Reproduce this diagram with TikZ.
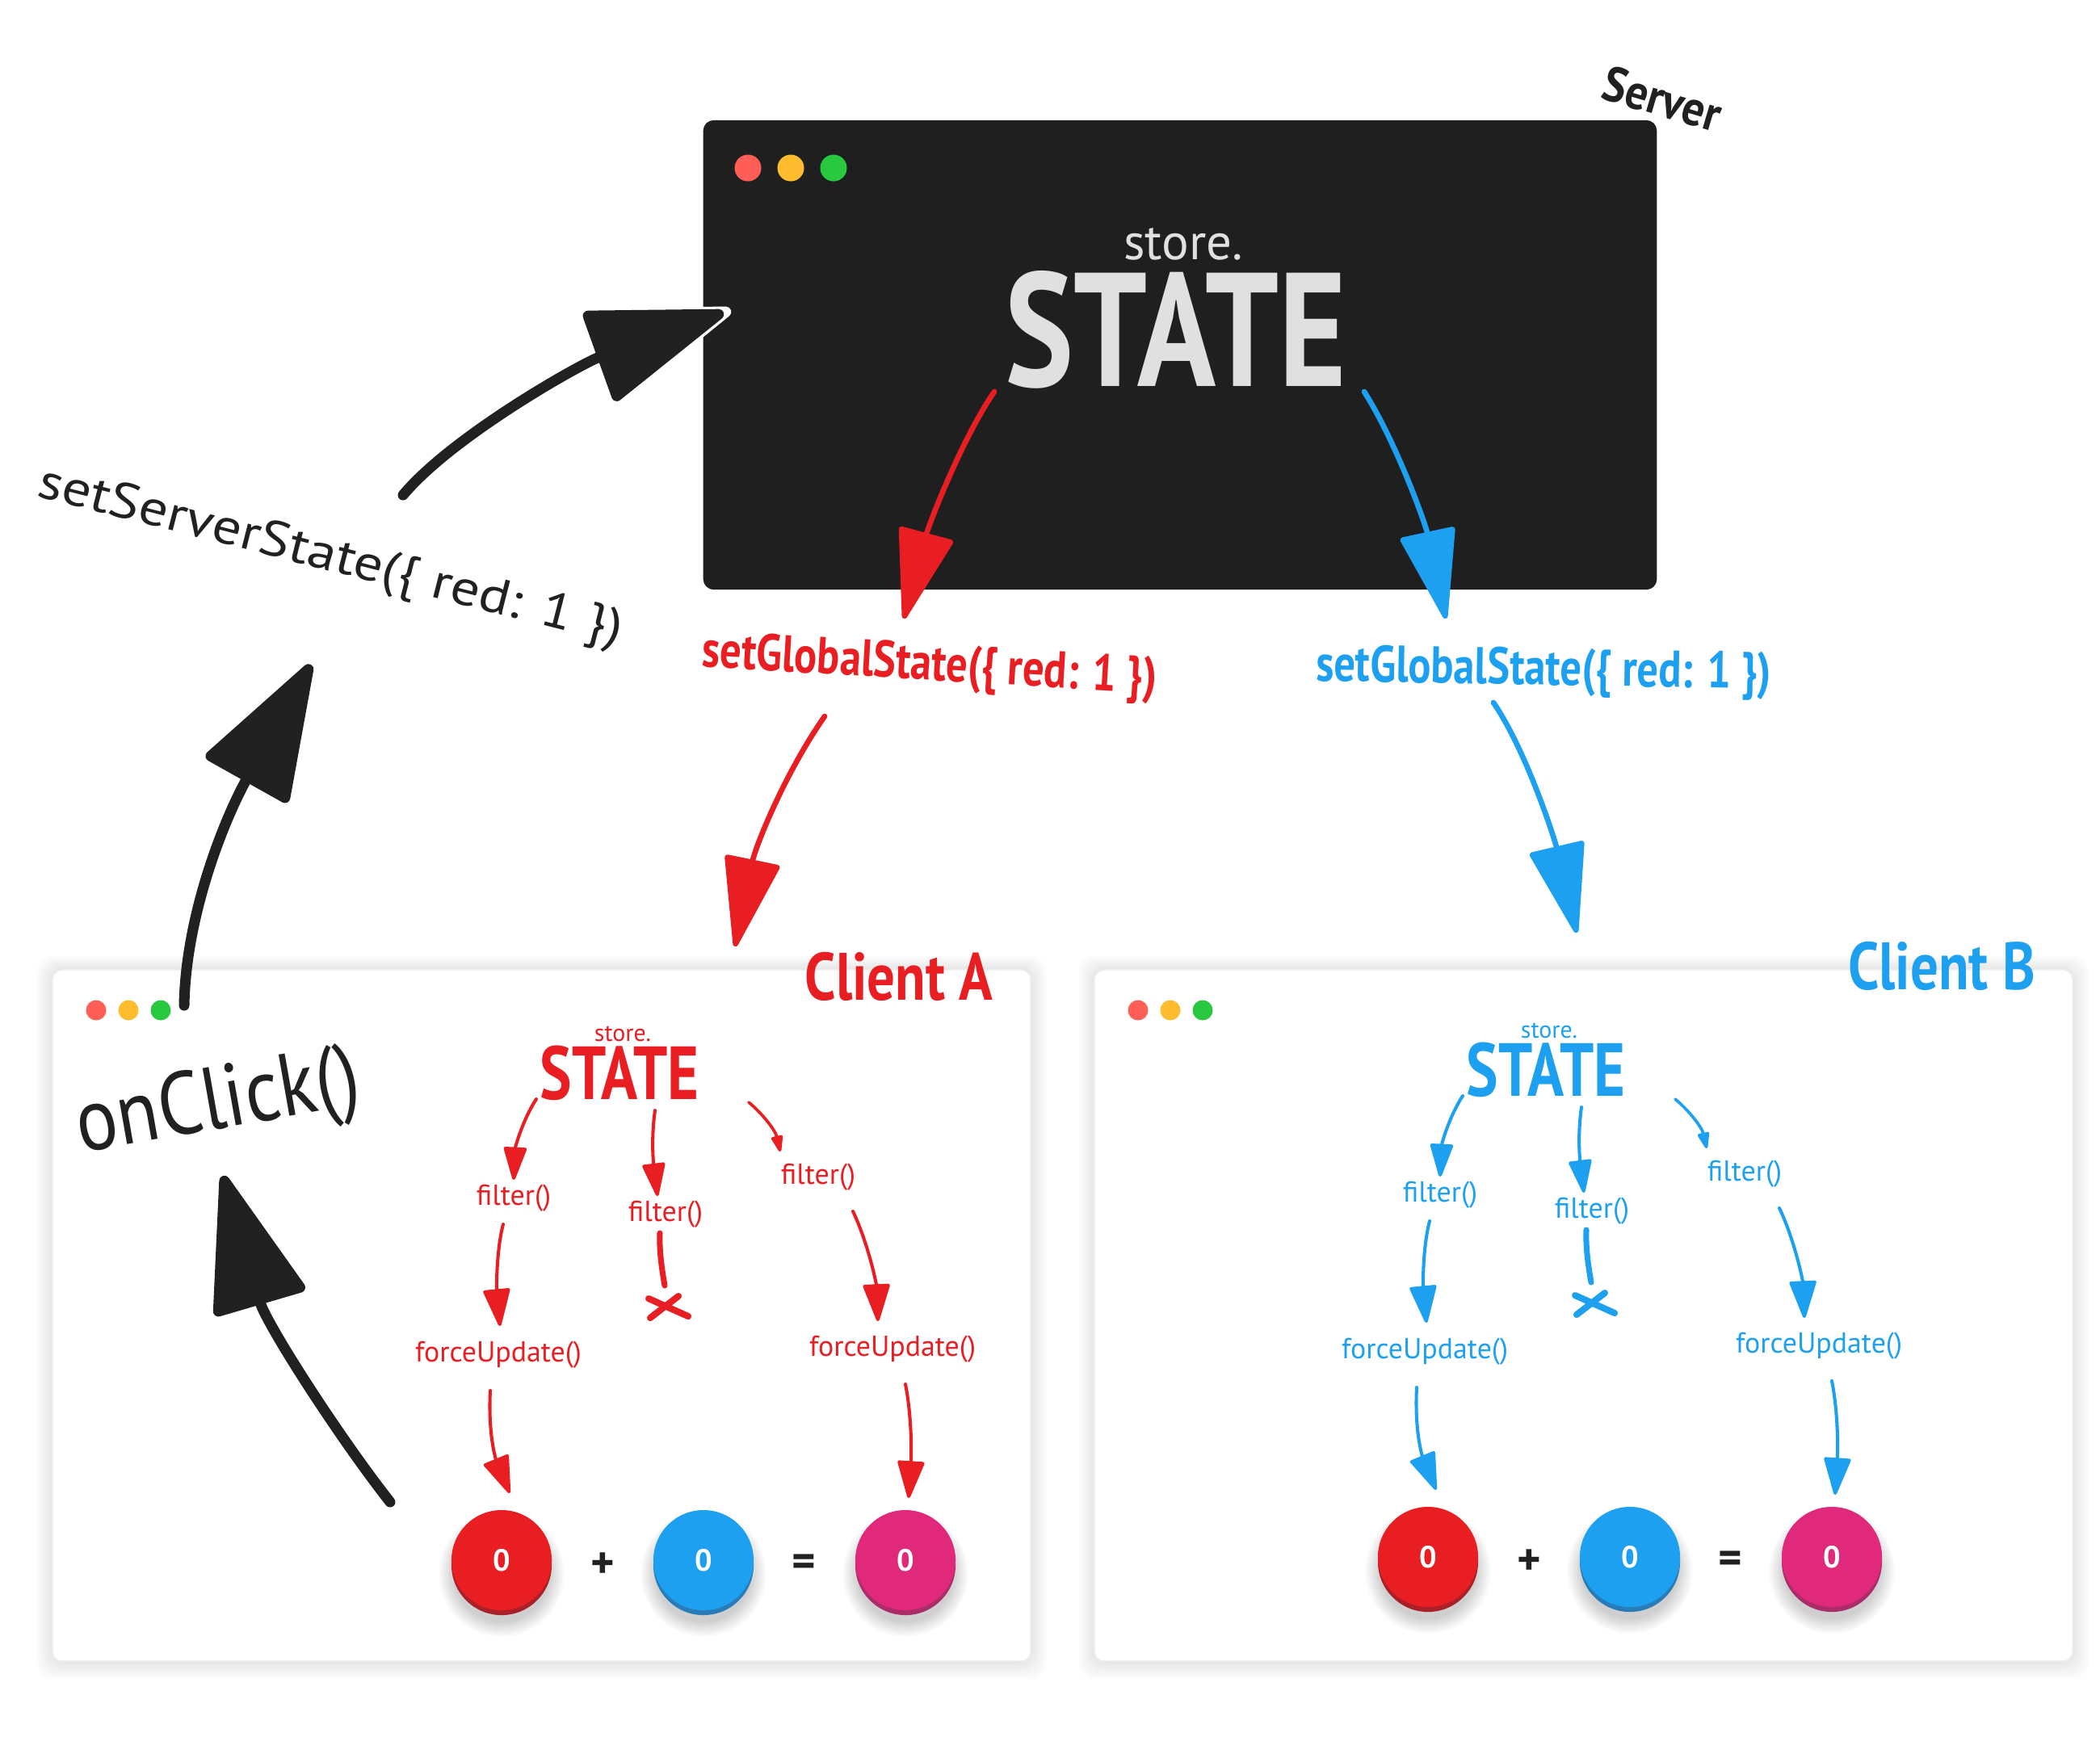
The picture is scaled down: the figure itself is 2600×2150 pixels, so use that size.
\documentclass[tikz,border=0pt]{standalone}
\usepackage{fontspec}
\setmainfont{PT Sans}
\usetikzlibrary{arrows.meta}
\definecolor{cred}{RGB}{232,30,34}
\definecolor{cblue}{RGB}{30,160,240}
\definecolor{cpink}{RGB}{224,41,122}
\definecolor{cdark}{RGB}{31,31,31}
\definecolor{cink}{RGB}{33,33,33}
\definecolor{cgrayt}{RGB}{224,224,224}
\definecolor{dotr}{RGB}{255,95,87}
\definecolor{doty}{RGB}{254,188,46}
\definecolor{dotg}{RGB}{40,200,64}
\definecolor{rimred}{RGB}{170,32,40}
\definecolor{rimblue}{RGB}{40,125,185}
\definecolor{rimpink}{RGB}{170,45,105}
\definecolor{boxline}{RGB}{236,236,236}

\newcommand\fServerState{\fontsize{57pt}{60pt}\selectfont\bfseries}
\newcommand\fServerStore{\fontsize{17.9pt}{20pt}\selectfont}
\newcommand\fLabel{\fontsize{17.4pt}{20pt}\selectfont\bfseries}
\newcommand\fSetServer{\fontsize{17.6pt}{20pt}\selectfont}
\newcommand\fGlobal{\fontsize{18.2pt}{20pt}\selectfont\bfseries}
\newcommand\fClient{\fontsize{23.6pt}{26pt}\selectfont\bfseries}
\newcommand\fClick{\fontsize{31.3pt}{34pt}\selectfont}
\newcommand\fCStore{\fontsize{8.5pt}{10pt}\selectfont}
\newcommand\fCState{\fontsize{26.5pt}{28pt}\selectfont\bfseries}
\newcommand\fSmall{\fontsize{10.2pt}{12pt}\selectfont}
\newcommand\fZero{\fontsize{10.8pt}{12pt}\selectfont\bfseries}
\newcommand\fOp{\fontsize{16pt}{18pt}\selectfont\bfseries}

\tikzset{
  txt/.style={inner sep=0pt, outer sep=0pt},
  bigarrow/.style={line width=1.9pt, line cap=round, -{Triangle[length=1.18cm, width=0.7cm, round]}},
  blackarrow/.style={cink, line width=3.7pt, line cap=round, -{Triangle[length=1.8cm, width=1.2cm, round]}},
  sarrow/.style={line width=1.15pt, line cap=round, -{Triangle[length=0.45cm, width=0.29cm, round]}},
  tarrow/.style={line width=1.05pt, line cap=round, -{Triangle[length=0.24cm, width=0.15cm, round]}},
  marrow/.style={line width=1.15pt, line cap=round, -{Triangle[length=0.5cm, width=0.34cm, round]}},
  winbox/.style={draw=boxline, line width=0.5pt, fill=white, rounded corners=0.12cm,
     minimum width=12.11cm, minimum height=8.56cm, inner sep=0pt},
  serverbox/.style={fill=cdark, rounded corners=0.13cm, minimum width=11.8cm,
     minimum height=5.81cm, inner sep=0pt},
  button/.style={circle, minimum size=1.24cm, inner sep=0pt, text=white, font=\fZero},
  opnode/.style={txt, text=cink, font=\fOp},
}

% window with shadow and traffic lights; #1 name, #2 left x
\newcommand\winpanel[2]{%
  \begin{scope}[shift={(#2-65,0)}]
    \foreach \i in {1,...,8}{\fill[black,opacity=0.013,rounded corners=0.2cm]
       (65-2.5*\i,1201-2.2*\i) rectangle (1276+2.5*\i,2057+2.8*\i);}
    \node[winbox] (#1) at (670.5,1629) {};
    \fill[dotr] (119,1251) circle[radius=0.125cm];
    \fill[doty] (159,1251) circle[radius=0.125cm];
    \fill[dotg] (199,1251) circle[radius=0.125cm];
  \end{scope}}

% button; #1 name #2 x #3 y #4 colour #5 rim
\newcommand\btn[5]{%
  \foreach \i in {0,...,7}{\fill[black,opacity=0.022] (#2,#3+17) circle[radius={0.6cm+\i*0.025cm}];}
  \fill[#5] (#2,#3+6) circle[radius=0.62cm];
  \node[button, fill=#4] (#1) at (#2,#3) {0};}

% client content; #1 prefix #2 colour #3 dx #4 dy
\newcommand\clientcontent[4]{%
  \begin{scope}[shift={(#3,#4)}]
    \node[txt, font=\fCStore, text=#2, anchor=base] (#1store) at (771,1289) {store.};
    \node[txt, font=\fCState, text=#2, anchor=base, xscale=0.8] (#1state) at (767,1361) {STATE};
    \node[txt, font=\fSmall, text=#2, anchor=base] (#1fl) at (636,1492) {filter()};
    \node[txt, font=\fSmall, text=#2, anchor=base] (#1fm) at (824,1512) {filter()};
    \node[txt, font=\fSmall, text=#2, anchor=base] (#1fr) at (1013,1466) {filter()};
    \node[txt, font=\fSmall, text=#2, anchor=base] (#1ul) at (617,1686) {forceUpdate()};
    \node[txt, font=\fSmall, text=#2, anchor=base] (#1ur) at (1105,1679) {forceUpdate()};
    \coordinate (#1a1s) at (664,1361); \coordinate (#1a1e) at (636,1461);
    \coordinate (#1a2s) at (811,1375); \coordinate (#1a2e) at (814,1481);
    \coordinate (#1a3s) at (927,1365); \coordinate (#1a3e) at (966,1426);
    \coordinate (#1b1s) at (623,1516); \coordinate (#1b1e) at (619,1642);
    \coordinate (#1b2s) at (817,1527); \coordinate (#1b2e) at (823,1592);
    \coordinate (#1b3s) at (1056,1500); \coordinate (#1b3e) at (1087,1636);
    \coordinate (#1c1s) at (607,1722); \coordinate (#1c1e) at (631,1849);
    \coordinate (#1c3s) at (1121,1714); \coordinate (#1c3e) at (1125,1855);
    \draw[#2, sarrow] (#1a1s) .. controls (648,1385) and (638,1420) .. (#1a1e);
    \draw[#2, sarrow] (#1a2s) .. controls (806,1410) and (809,1440) .. (#1a2e);
    \draw[#2, tarrow] (#1a3s) .. controls (945,1380) and (960,1400) .. (#1a3e);
    \draw[#2, marrow] (#1b1s) .. controls (614,1550) and (615,1600) .. (#1b1e);
    \draw[#2, line width=2pt, line cap=round] (#1b2s) .. controls (816,1550) and (820,1575) .. (#1b2e);
    \draw[#2, line width=2.3pt, line cap=round] (803,1608) -- (852,1630) (840,1605) -- (805,1632);
    \draw[#2, marrow] (#1b3s) .. controls (1075,1540) and (1085,1590) .. (#1b3e);
    \draw[#2, marrow] (#1c1s) .. controls (604,1780) and (615,1810) .. (#1c1e);
    \draw[#2, marrow] (#1c3s) .. controls (1130,1760) and (1128,1810) .. (#1c3e);
    \btn{#1red}{621}{1932}{cred}{rimred}
    \btn{#1blue}{871}{1932}{cblue}{rimblue}
    \btn{#1pink}{1121}{1932}{cpink}{rimpink}
    \node[opnode] (#1plus) at (746,1939) {+};
    \node[opnode] (#1eq) at (995,1939) {=};
  \end{scope}}

\begin{document}
\begin{tikzpicture}[x=0.01cm, y=-0.01cm]
\useasboundingbox (0,0) rectangle (2600,2150);
\fill[white] (0,0) rectangle (2600,2150);

% client windows
\winpanel{clientA}{65}
\winpanel{clientB}{1355}
\clientcontent{A}{cred}{0}{0}
\clientcontent{B}{cblue}{1147}{-4}

% server window
\node[serverbox] (server) at (1461,439.5) {};
\fill[dotr] (926,208) circle[radius=0.165cm];
\fill[doty] (979,208) circle[radius=0.165cm];
\fill[dotg] (1032,208) circle[radius=0.165cm];
\node[txt, font=\fServerStore, text=cgrayt, anchor=base] (sstore) at (1465,321) {store.};
\node[txt, font=\fServerState, text=cgrayt, anchor=base, xscale=0.8] (sstate) at (1456,478) {STATE};
\node[txt, font=\fLabel, text=cink, anchor=base, rotate=-16.5, xscale=0.9] (slabel) at (2052,143) {Server};

% labels
\node[txt, font=\fSetServer, text=cink, anchor=base, rotate=-14.3, xscale=1.15] (setserver) at (405,706) {setServerState(\{ red: 1 \})};
\node[txt, font=\fGlobal, text=cred, anchor=base, rotate=-3.4, xscale=0.82] (globalA) at (1150,842) {setGlobalState(\{ red: 1 \})};
\node[txt, font=\fGlobal, text=cblue, anchor=base, rotate=-1, xscale=0.82] (globalB) at (1911,848) {setGlobalState(\{ red: 1 \})};
\node[txt, font=\fClient, text=cred, anchor=base, xscale=0.83] (labelA) at (1113,1238) {Client A};
\node[txt, font=\fClient, text=cblue, anchor=base, xscale=0.83] (labelB) at (2404,1225) {Client B};
\node[txt, font=\fClick, text=cink, anchor=base, rotate=10, xscale=0.87] (onclick) at (275,1397) {onClick()};

% server arrows
\coordinate (sr1) at (1231,485); \coordinate (sr2) at (1119,766);
\coordinate (sb1) at (1689,485); \coordinate (sb2) at (1790,766);
\draw[cred, bigarrow] (sr1) .. controls (1190,545) and (1150,650) .. (sr2);
\draw[cblue, bigarrow] (sb1) .. controls (1730,550) and (1765,650) .. (sb2);
\coordinate (gr1) at (1021,887); \coordinate (gr2) at (910,1172);
\coordinate (gb1) at (1849,870); \coordinate (gb2) at (1952,1155);
\draw[cred, bigarrow] (gr1) .. controls (970,960) and (935,1050) .. (gr2);
\draw[cblue, bigarrow] (gb1) .. controls (1890,930) and (1925,1040) .. (gb2);

% black arrows
\coordinate (k1s) at (499,613); \coordinate (k1e) at (896,387); \coordinate (k1w) at (905,384);
\draw[white, line width=3.7pt, line cap=round, -{Triangle[length=1.98cm, width=1.36cm, round]}]
   (k1s) .. controls (560,540) and (720,450) .. (k1w);
\draw[blackarrow] (k1s) .. controls (560,540) and (720,450) .. (k1e);
\coordinate (k2s) at (228,1245); \coordinate (k2e) at (385,823);
\draw[blackarrow] (k2s) .. controls (230,1130) and (280,1010) .. (k2e);
\coordinate (k3s) at (483,1860); \coordinate (k3e) at (276,1456);
\draw[blackarrow] (k3s) .. controls (420,1780) and (330,1640) .. (k3e);
\end{tikzpicture}
\end{document}
